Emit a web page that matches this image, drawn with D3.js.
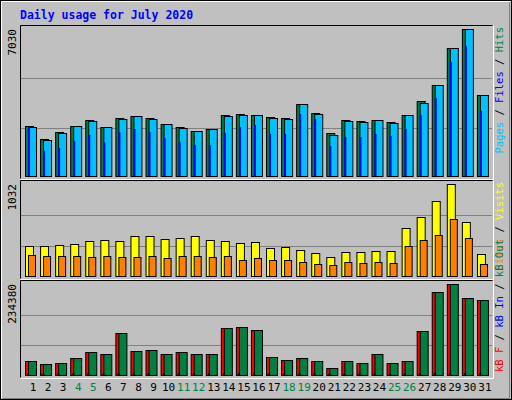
<!DOCTYPE html>
<html><head><meta charset="utf-8">
<script src="https://cdn.jsdelivr.net/npm/d3@7"></script>
<style>body{margin:0;background:#fff}</style>
</head><body><div id="chart"></div>
<script>
var days = d3.range(1, 32);
var weekend = [4, 5, 11, 12, 18, 19, 25, 26];
var hits = [2410,1770,2100,2390,2680,2340,2770,2870,2770,2490,2340,2150,2250,2920,2960,2920,2820,2770,3440,3010,2060,2680,2630,2680,2580,2920,3590,4370,6140,7030,3870];
var files = [2360,1720,2050,2390,2630,2340,2720,2870,2720,2490,2290,2150,2250,2870,2920,2920,2770,2730,3440,2960,1960,2630,2580,2680,2530,2920,3490,4370,6140,7030,3870];
var pages = [2340,1190,1340,1670,1960,1620,2100,2250,2100,1820,1620,1480,1480,2060,2340,2440,2010,2010,2960,2730,1430,1860,1860,2010,1910,2250,2920,3730,5450,6220,3110];
var visits = [333,333,344,355,388,399,388,444,444,411,422,444,399,388,366,377,311,322,288,255,211,266,266,277,277,544,666,843,1032,610,244];
var sites = [233,222,222,222,211,222,211,211,222,200,222,222,211,222,177,200,177,177,155,133,122,155,144,155,144,333,400,455,644,422,133];
var kbOut = [35860,28170,30730,43540,60190,53790,107600,61480,64040,53790,60190,55070,55070,121700,124200,116600,47380,39690,44820,37130,19210,37130,30730,53790,30730,37130,114000,214400,234380,199200,192800];
var kbIn = [1000,900,900,1100,1300,1200,1800,1300,1300,1200,1300,1200,1200,1900,2000,1900,1100,1000,1100,1000,700,1000,900,1200,900,1000,1900,3000,3300,2900,2800];

var W = 512, H = 400;
var svg = d3.select("#chart").append("svg").attr("width", W).attr("height", H)
  .style("font-family", "'DejaVu Sans Mono', monospace");

svg.append("rect").attr("x", 0.5).attr("y", 0.5).attr("width", W - 1).attr("height", H - 1)
  .attr("fill", "#c0c0c0").attr("stroke", "#000");
svg.append("path").attr("d", "M1.5,398.5V1.5H510.5").attr("fill", "none").attr("stroke", "#fff");
svg.append("path").attr("d", "M2.5,398.5H509.5V2.5").attr("fill", "none").attr("stroke", "#808080");

svg.append("text").attr("x", 20).attr("y", 19).attr("fill", "#0000ff")
  .attr("font-size", 11.5).attr("font-weight", "bold").text("Daily usage for July 2020");

var x = d3.scaleBand().domain(days).range([25, 492]).paddingInner(0);

function panel(y0, y1, top, maxLabel, legend, fromBottom) {
  svg.append("rect").attr("x", 20.5).attr("y", y0 + 0.5).attr("width", 472).attr("height", y1 - y0)
    .attr("fill", "#c0c0c0").attr("stroke", "none");
  svg.append("path").attr("d", "M20.5," + (y1 + 0.5) + "V" + (y0 + 0.5) + "H492.5")
    .attr("fill", "none").attr("stroke", "#000");
  svg.append("path").attr("d", "M20.5," + (y1 + 1.5) + "H493.5V" + (y0 + 0.5))
    .attr("fill", "none").attr("stroke", "#fff");
  var y = d3.scaleLinear().domain([0, 1]).range([y1 - 1, top]);
  [1 / 3, 2 / 3].forEach(function (f) {
    svg.append("line").attr("x1", 21).attr("x2", 492).attr("y1", Math.round(y(f)) + 0.5).attr("y2", Math.round(y(f)) + 0.5)
      .attr("stroke", "#808080");
  });
  svg.append("text").attr("transform", "translate(16," + top + ") rotate(-90)")
    .attr("text-anchor", "end").attr("font-size", 11).attr("fill", "#000").text(maxLabel);
  var t = svg.append("text")
    .attr("transform", "translate(503," + (fromBottom ? y1 - 5 : y0 + 2) + ") rotate(-90)")
    .attr("text-anchor", fromBottom ? "start" : "end").attr("font-size", 10.5);
  legend.forEach(function (l, i) {
    if (i) t.append("tspan").attr("fill", "#000").text(" / ");
    t.append("tspan").attr("fill", l[1]).text(l[0]);
  });
}

function bars(data, yScale, color, dx, w) {
  svg.append("g").selectAll("rect").data(data).join("rect")
    .attr("x", function (d, i) { return x(days[i]) + dx + 0.5; })
    .attr("y", function (d) { return Math.round(yScale(d)) + 0.5; })
    .attr("width", w).attr("height", function (d) { return yScale(0) - Math.round(yScale(d)); })
    .attr("fill", color).attr("stroke", "#000");
}

// top: hits / files / pages
panel(25, 178, 29, "7030", [["Pages", "#00c0ff"], ["Files", "#0000ff"], ["Hits", "#008040"]], false);
var y1 = d3.scaleLinear().domain([0, 7030]).range([176, 29]);
bars(hits, y1, "#008040", 0, 8);
bars(files, y1, "#00c0ff", 3, 8);
svg.append("g").selectAll("rect").data(pages).join("rect")
  .attr("x", function (d, i) { return x(days[i]) + 3; })
  .attr("y", function (d) { return y1(d); })
  .attr("width", 2).attr("height", function (d) { return 176 - y1(d); })
  .attr("fill", "#0000ff");

// middle: visits / sites
panel(180, 278, 184, "1032", [["Sites", "#ff8000"], ["Visits", "#ffff00"]], false);
var y2 = d3.scaleLinear().domain([0, 1032]).range([276, 184]);
bars(visits, y2, "#ffff00", 0, 8);
bars(sites, y2, "#ff8000", 3, 7);

// bottom: kB
panel(280, 377, 284, "234380", [["kB F", "#ff0000"], ["kB In", "#0000ff"], ["kB Out", "#008040"]], true);
var y3 = d3.scaleLinear().domain([0, 234380]).range([375, 284]);
bars(kbOut, y3, "#ff0000", 0, 8);
bars(kbOut, y3, "#008040", 3, 8);
svg.append("g").selectAll("rect").data(kbIn).join("rect")
  .attr("x", function (d, i) { return x(days[i]) + 2; })
  .attr("y", function (d) { return y3(d) - 1; })
  .attr("width", 2).attr("height", function (d) { return 375 - y3(d) + 1; })
  .attr("fill", "#000");

svg.append("g").selectAll("text").data(days).join("text")
  .attr("x", function (d) { return x(d) + 8; }).attr("y", 391)
  .attr("text-anchor", "middle").attr("font-size", 11)
  .attr("fill", function (d) { return weekend.indexOf(d) >= 0 ? "#008040" : "#000"; })
  .text(function (d) { return d; });
</script></body></html>
